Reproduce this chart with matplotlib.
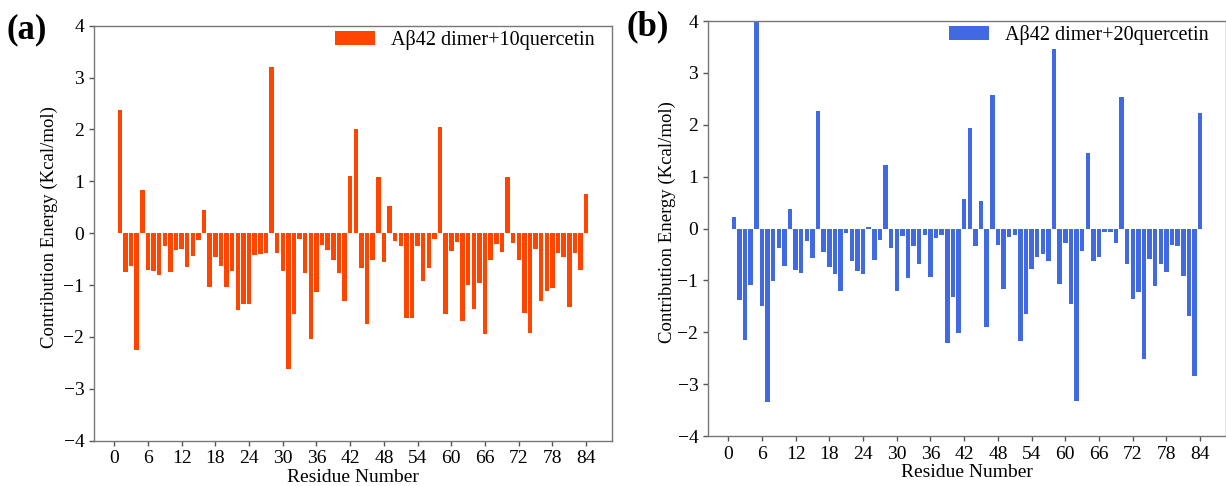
import matplotlib
matplotlib.use("Agg")
import matplotlib.pyplot as plt
import numpy as np

plt.rcParams['font.family'] = ['Liberation Serif', 'DejaVu Serif']
plt.rcParams['axes.unicode_minus'] = True

residues = list(range(1, 85))

energy_10q = [
    2.37, -0.74, -0.64, -2.26, 0.84, -0.71, -0.72, -0.80, -0.24, -0.75,
    -0.32, -0.30, -0.66, -0.44, -0.13, 0.44, -1.03, -0.46, -0.64, -1.03,
    -0.73, -1.49, -1.37, -1.37, -0.42, -0.40, -0.39, 3.21, -0.39, -0.73,
    -2.61, -1.55, -0.12, -0.77, -2.04, -1.13, -0.22, -0.33, -0.52, -0.76,
    -1.30, 1.10, 2.01, -0.67, -1.75, -0.51, 1.09, -0.55, 0.52, -0.15,
    -0.24, -1.63, -1.63, -0.24, -0.92, -0.67, -0.12, 2.05, -1.55, -0.35,
    -0.17, -1.70, -0.99, -1.47, -0.96, -1.94, -0.51, -0.21, -0.37, 1.09,
    -0.19, -0.51, -1.53, -1.92, -0.30, -1.31, -1.12, -1.06, -0.38, -0.45,
    -1.43, -0.39, -0.71, 0.75,
]

energy_20q = [
    0.22, -1.38, -2.15, -1.09, 4.10, -1.49, -3.35, -1.02, -0.38, -0.73,
    0.37, -0.80, -0.85, -0.24, -0.57, 2.26, -0.46, -0.74, -0.87, -1.21,
    -0.08, -0.63, -0.81, -0.88, 0.03, -0.61, -0.22, 1.23, -0.38, -1.21,
    -0.15, -0.96, -0.34, -0.69, -0.12, -0.93, -0.19, -0.12, -2.20, -1.32,
    -2.01, 0.56, 1.93, -0.33, 0.53, -1.90, 2.57, -0.31, -1.17, -0.16,
    -0.12, -2.17, -1.65, -0.78, -0.55, -0.49, -0.62, 3.46, -1.07, -0.28,
    -1.45, -3.33, -0.44, 1.45, -0.62, -0.55, -0.06, -0.06, -0.28, 2.53,
    -0.69, -1.35, -1.22, -2.51, -0.58, -1.10, -0.69, -0.84, -0.32, -0.33,
    -0.91, -1.68, -2.84, 2.22,
]

labels = ["A\u03b242 dimer+10quercetin", "A\u03b242 dimer+20quercetin"]
colors = ["#FF4500", "#4169E1"]
panel_tags = ["(a)", "(b)"]
xticks = list(range(0, 85, 6))
yticks = list(range(-4, 5))

W, H = 1226, 486
fig = plt.figure(figsize=(W / 100, H / 100), dpi=100)

boxes = [
    (94, 25.7, 612, 440.7),
    (708, 21, 1226, 436),
]
series = [energy_10q, energy_20q]
tag_pos = [(7, 30), (627, 27)]
ylabel_x = [-0.07, -0.062]

for i in range(2):
    x0, y0, x1, y1 = boxes[i]
    ax = fig.add_axes([x0 / W, 1 - y1 / H, (x1 - x0) / W, (y1 - y0) / H])
    ax.bar(residues, series[i], width=0.8, color=colors[i], label=labels[i])
    ax.set_ylim(-4, 4)
    ax.set_xlim(-3.59, 88.59)
    ax.set_xticks(xticks)
    ax.set_yticks(yticks)
    ax.tick_params(labelsize=14, color="#555555", length=3.5, width=1)
    for sp in ax.spines.values():
        sp.set_color("#777777")
        sp.set_linewidth(1.0)
    ax.set_xlabel("Residue Number", fontsize=14, labelpad=1)
    ax.set_ylabel("Contribution Energy (Kcal/mol)", fontsize=13.5)
    ax.yaxis.set_label_coords(ylabel_x[i], 0.515)
    ax.legend(loc="upper right", frameon=False, fontsize=14.5,
              borderaxespad=0, borderpad=0, bbox_to_anchor=(0.967, 0.99))
    fig.text(tag_pos[i][0] / W, 1 - tag_pos[i][1] / H, panel_tags[i],
             fontsize=25, fontweight="bold", va="center", ha="left")

fig.savefig("out.png", dpi=100)
